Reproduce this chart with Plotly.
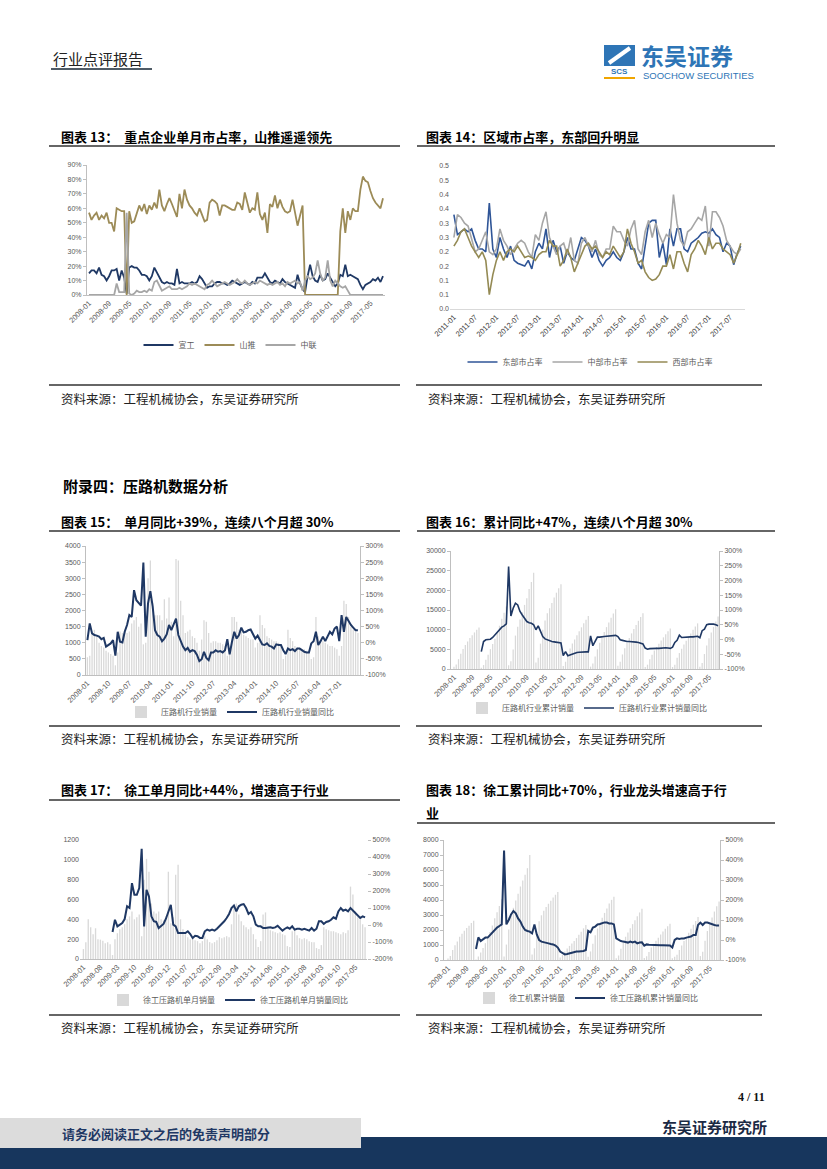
import plotly.graph_objects as go
import pandas as pd

# ---------------- DATA ----------------
months_13 = pd.date_range("2008-01", periods=118, freq="MS").strftime("%Y-%m").tolist()
months_14 = pd.date_range("2011-01", periods=82, freq="MS").strftime("%Y-%m").tolist()
months_15 = pd.date_range("2008-01", periods=117, freq="MS").strftime("%Y-%m").tolist()

ticks_8m = ["2008-01", "2008-09", "2009-05", "2010-01", "2010-09", "2011-05", "2012-01", "2012-09",
            "2013-05", "2014-01", "2014-09", "2015-05", "2016-01", "2016-09", "2017-05"]
ticks_6m = ["2011-01", "2011-07", "2012-01", "2012-07", "2013-01", "2013-07", "2014-01", "2014-07",
            "2015-01", "2015-07", "2016-01", "2016-07", "2017-01", "2017-07"]
ticks_9m = ["2008-01", "2008-10", "2009-07", "2010-04", "2011-01", "2011-10", "2012-07", "2013-04",
            "2014-01", "2014-10", "2015-07", "2016-04", "2017-01"]
ticks_7m = ["2008-01", "2008-08", "2009-03", "2009-10", "2010-05", "2010-12", "2011-07", "2012-02",
            "2012-09", "2013-04", "2013-11", "2014-06", "2015-01", "2015-08", "2016-03", "2016-10", "2017-05"]

# Chart 13: share (%)
xuangong = [15, 17, 17, 15, 19, 14, 13, 10, 13, 17,
            17, 18, 10, 17, 12, 1, 19, 20, 19, 19,
            17, 14, 14, 13, 10, 13, 19, 16, 12, 9,
            8, 9, 8, 8, 7, 18, 8, 9, 8, 8,
            8, 9, 8, 9, 13, 11, 8, 5, 6, 6,
            8, 9, 9, 8, 8, 7, 8, 10, 9, 8,
            7, 8, 9, 8, 7, 9, 8, 12, 12, 12,
            15, 12, 9, 8, 10, 9, 8, 11, 9, 8,
            7, 6, 5, 14, 8, 4, 2, 13, 21, 13,
            10, 9, 14, 10, 11, 15, 12, 10, 6, 8,
            14, 13, 21, 13, 14, 13, 12, 11, 7, 4,
            7, 8, 9, 11, 10, 12, 9, 13]
shantui = [57, 52, 55, 57, 52, 55, 53, 57, 50, 50,
           44, 60, 59, 58, 58, 0, 58, 50, 51, 57,
           62, 58, 63, 56, 62, 59, 64, 60, 73, 62,
           58, 63, 67, 63, 58, 54, 70, 60, 73, 66,
           62, 60, 57, 55, 60, 55, 51, 52, 64, 66,
           65, 63, 55, 62, 62, 61, 60, 59, 59, 64,
           63, 59, 71, 63, 57, 60, 59, 71, 56, 52,
           57, 43, 63, 61, 69, 60, 66, 61, 58, 57,
           58, 66, 58, 48, 55, 62, 0, 0, 0, 0,
           0, 0, 0, 0, 0, 0, 0, 0, 0, 0,
           44, 60, 43, 58, 52, 60, 58, 58, 73, 82,
           79, 78, 72, 67, 64, 62, 60, 67]
zhonglian = [0, 0, 0, 0, 0, 0, 0, 0, 0, 0,
             0, 8, 2, 2, 2, 57, 1, 0, 1, 3,
             2, 2, 3, 2, 4, 3, 9, 10, 6, 3,
             4, 5, 6, 4, 4, 4, 5, 4, 5, 6,
             8, 7, 8, 7, 6, 5, 4, 7, 8, 10,
             8, 6, 7, 8, 9, 8, 7, 8, 9, 11,
             9, 8, 10, 8, 7, 8, 9, 8, 10, 9,
             8, 7, 8, 7, 8, 9, 7, 8, 6, 9,
             8, 9, 10, 8, 9, 3, 10, 13, 11, 12,
             15, 24, 15, 10, 12, 24, 10, 6, 10, 8,
             6, 5, 6, 3, 0, 0, 0, 0, 0, 0,
             0, 0, 0, 0, 0, 0, 0, 0]

# Chart 14: regional share
east = [0.33, 0.26, 0.27, 0.28, 0.27, 0.28, 0.24, 0.21, 0.21, 0.20,
        0.37, 0.21, 0.18, 0.25, 0.21, 0.18, 0.22, 0.17, 0.16, 0.155,
        0.15, 0.17, 0.14, 0.20, 0.23, 0.21, 0.28, 0.18, 0.24, 0.20,
        0.22, 0.16, 0.20, 0.18, 0.17, 0.21, 0.25, 0.24, 0.22, 0.18,
        0.21, 0.17, 0.15, 0.17, 0.18, 0.20, 0.18, 0.17, 0.20, 0.25,
        0.21, 0.21, 0.16, 0.14, 0.22, 0.30, 0.31, 0.31, 0.18, 0.23,
        0.155, 0.28, 0.22, 0.28, 0.28, 0.21, 0.20, 0.23, 0.24, 0.25,
        0.265, 0.27, 0.265, 0.28, 0.26, 0.25, 0.20, 0.23, 0.22, 0.155,
        0.195, 0.22]
central = [0.25, 0.33, 0.32, 0.30, 0.29, 0.24, 0.20, 0.21, 0.24, 0.27,
           0.20, 0.19, 0.21, 0.28, 0.24, 0.22, 0.19, 0.21, 0.23, 0.24,
           0.23, 0.20, 0.18, 0.26, 0.24, 0.30, 0.34, 0.25, 0.22, 0.19,
           0.22, 0.23, 0.19, 0.25, 0.17, 0.16, 0.23, 0.25, 0.22, 0.20,
           0.24, 0.19, 0.18, 0.21, 0.21, 0.29, 0.27, 0.27, 0.24, 0.22,
           0.28, 0.31, 0.21, 0.19, 0.27, 0.31, 0.25, 0.30, 0.26, 0.23,
           0.26, 0.25, 0.40, 0.30, 0.24, 0.22, 0.27, 0.28, 0.30, 0.32,
           0.31, 0.36, 0.22, 0.34, 0.34, 0.32, 0.29, 0.24, 0.22, 0.20,
           0.19, 0.21]
west = [0.22, 0.24, 0.27, 0.28, 0.25, 0.22, 0.20, 0.18, 0.20, 0.17,
        0.05, 0.12, 0.17, 0.20, 0.17, 0.20, 0.21, 0.20, 0.22, 0.20,
        0.18, 0.185, 0.18, 0.17, 0.19, 0.20, 0.20, 0.24, 0.22, 0.22,
        0.15, 0.17, 0.21, 0.18, 0.13, 0.16, 0.19, 0.22, 0.23, 0.21,
        0.22, 0.20, 0.18, 0.20, 0.19, 0.22, 0.20, 0.18, 0.20, 0.28,
        0.23, 0.20, 0.16, 0.17, 0.13, 0.11, 0.10, 0.105, 0.12, 0.15,
        0.15, 0.19, 0.14, 0.20, 0.20, 0.16, 0.13, 0.19, 0.21, 0.24,
        0.22, 0.19, 0.25, 0.21, 0.23, 0.23, 0.21, 0.20, 0.19, 0.16,
        0.19, 0.23]

# Chart 15: industry monthly sales (units) and yoy (%)
roller_monthly = [550, 600, 1350, 1400, 1200, 1000, 900, 850, 750, 700, 650, 600,
                  300, 700, 1350, 1300, 1400, 1300, 1350, 1600, 1700, 1800, 1500, 1600,
                  950, 1000, 3000, 3550, 2250, 1850, 1850, 1850, 1700, 2350, 1750, 2400,
                  1650, 1200, 3600, 3550, 2300, 1850, 1300, 1350, 1400, 1200, 1150, 1000,
                  750, 1100, 1700, 1650, 1300, 1000, 1050, 1050, 1000, 1000, 950, 900,
                  600, 800, 1800, 1800, 1650, 1400, 1350, 1250, 1200, 1150, 1100, 1100,
                  850, 1000, 1850, 1550, 1450, 1200, 1150, 1100, 1050, 1050, 1000, 950,
                  500, 600, 1400, 1150, 1050, 900, 850, 800, 800, 800, 750, 700,
                  500, 550, 1800, 1200, 1100, 1050, 1000, 950, 900, 900, 850, 800,
                  600, 900, 2300, 2200, 1800, 1500, 1400, 1350, 1300]
roller_monthly_yoy = [8, 60, 29, 24, 22, 19, 11, 15, -12, -7, -2, 8,
                      -40, 34, 3, 1, 34, 55, 86, 80, 163, 132, 122, 115,
                      249, 19, 122, 160, 112, 39, 24, 19, 5, 13, 26, 55,
                      39, 55, 75, 24, 3, -12, -23, -16, -28, -23, -26, -38,
                      -57, -51, -28, -47, -54, -30, -30, -23, -28, -26, -30, -23,
                      11, -36, 3, 34, 13, 24, 47, 32, 34, 39, 41, 24,
                      13, 22, 8, -5, -7, -2, -10, -12, -18, -5, -7, -7,
                      -23, -35, -18, -23, -20, -26, -18, -18, -23, -28, -30, -30,
                      -2, 5, 34, -7, 5, 19, 5, 19, 34, 26, 44, 50,
                      5, 86, 34, 80, 65, 55, 47, 39, 39]

# Chart 16: industry cumulative sales and yoy (%)
roller_cum = [550, 1150, 2500, 3900, 5100, 6100, 7000, 7850, 8600, 9300, 9950, 10550,
              300, 1000, 2350, 3650, 5050, 6350, 7700, 9300, 11000, 12800, 14300, 15900,
              950, 1950, 4950, 8500, 10750, 12600, 14450, 16300, 18000, 20350, 22100, 24500,
              1650, 2850, 6450, 10000, 12300, 14150, 15450, 16800, 18200, 19400, 20550, 21550,
              750, 1850, 3550, 5200, 6500, 7500, 8550, 9600, 10600, 11600, 12550, 13450,
              600, 1400, 3200, 5000, 6650, 8050, 9400, 10650, 11850, 13000, 14100, 15200,
              850, 1850, 3700, 5250, 6700, 7900, 9050, 10150, 11200, 12250, 13250, 14200,
              500, 1100, 2500, 3650, 4700, 5600, 6450, 7250, 8050, 8850, 9600, 10300,
              500, 1050, 2850, 4050, 5150, 6200, 7200, 8150, 9050, 9950, 10800, 11600,
              600, 1500, 3800, 6000, 7800, 9300, 10700, 12050, 13350]
roller_cum_yoy = [None] * 12 + [
    -41, -7, -1, -1, 1, 7, 16, 27, 35, 42, 46, 53,
    247, 80, 106, 123, 117, 95, 83, 72, 61, 57, 55, 50,
    33, 46, 27, 10, 2, -1, -5, -7, -8, -10, -11, -12,
    -55, -41, -55, -52, -48, -46, -44, -43, -42, -42, -42, -42,
    12, -21, -7, 8, 8, 10, 10, 11, 12, 14, 15, 14,
    10, -1, -3, -6, -7, -7, -7, -8, -9, -10, -12, -15,
    -29, -33, -31, -30, -30, -30, -30, -29, -29, -28, -29, -30,
    -26, -10, -3, 15, 7, 8, 7, 8, 9, 9, 10, 11,
    6, 30, 35, 50, 52, 53, 52, 50, 47]

# Chart 17: XCMG monthly sales and yoy (%)
xcmg_monthly = [100, 170, 400, 320, 250, 310, 200, 195, 185, 160, 170, 150,
                40, 200, 260, 300, 320, 350, 400, 430, 480, 400, 420, 450,
                230, 800, 1010, 880, 560, 480, 460, 480, 400, 390, 430, 880,
                360, 420, 850, 950, 400, 300, 250, 220, 200, 210, 190, 180,
                160, 180, 230, 200, 170, 160, 170, 190, 220, 210, 220, 230,
                220, 350, 520, 560, 450, 380, 340, 320, 300, 320, 250, 200,
                120, 180, 450, 470, 330, 290, 280, 270, 260, 270, 250, 240,
                130, 120, 280, 310, 240, 210, 200, 210, 200, 180, 170, 170,
                110, 100, 140, 320, 300, 290, 280, 280, 270, 260, 250, 270,
                260, 290, 730, 650, 480, 420, 400, 350, 320]
xcmg_monthly_yoy = [None] * 12 + [
    -41, 31, -8, 2, 12, 35, 110, 100, 246, 178, 178, 217,
    448, -8, 207, 168, 51, 22, 18, -18, -8, 6, 37, 76,
    119, 2, -8, -47, -47, -51, -47, -37, -53, -76, -63, -66,
    -76, -76, -37, -27, -33, -27, -33, -22, -8, 12, 22, 41,
    65, 100, 115, 80, 110, 119, 123, 100, 65, 76, 51, 2,
    -8, -8, -18, -18, -14, -14, -18, -14, -4, -18, -33, -22,
    -14, -22, -8, -27, -22, -22, -27, -22, -27, -33, -18, -33,
    -22, 22, 22, 6, 18, 22, 31, 45, 37, 80, 100, 84,
    90, 80, 100, 84, 70, 51, 41, 51, 45]

# Chart 18: XCMG cumulative sales and yoy (%)
xcmg_cum = [100, 270, 670, 990, 1240, 1550, 1750, 1945, 2130, 2290, 2460, 2610,
            40, 240, 500, 800, 1120, 1470, 1870, 2300, 2780, 3180, 3600, 4050,
            230, 1030, 2040, 2920, 3480, 3960, 4420, 4900, 5300, 5690, 6120, 7000,
            360, 780, 1630, 2580, 2980, 3280, 3530, 3750, 3950, 4160, 4350, 4530,
            160, 340, 570, 770, 940, 1100, 1270, 1460, 1680, 1890, 2110, 2340,
            220, 570, 1090, 1650, 2100, 2480, 2820, 3140, 3440, 3760, 4010, 4210,
            120, 300, 750, 1220, 1550, 1840, 2120, 2390, 2650, 2920, 3170, 3410,
            130, 250, 530, 840, 1080, 1290, 1490, 1700, 1900, 2080, 2250, 2420,
            110, 210, 350, 670, 970, 1260, 1540, 1820, 2090, 2350, 2600, 2870,
            260, 550, 1280, 1930, 2410, 2830, 3230, 3580, 3900]
xcmg_cum_yoy = [None] * 12 + [
    -45, 13, -5, 5, 12, 12, 25, 38, 50, 62, 70, 78,
    447, 78, 100, 128, 145, 133, 108, 92, 67, 50, 45, 42,
    33, 78, 28, 0, -8, -12, -13, -17, -20, -22, -28, -38,
    -58, -67, -72, -70, -67, -63, -60, -58, -58, -58, -55, -50,
    45, 38, 62, 67, 78, 80, 83, 88, 87, 83, 83, 78,
    8, 0, -5, -8, -12, -13, -8, -12, -8, -17, -13, -12,
    -28, -22, -24, -25, -24, -26, -26, -26, -26, -26, -27, -28,
    -38, 0, 8, 5, 8, 8, 12, 15, 17, 25, 25, 75,
    87, 75, 87, 87, 82, 78, 75, 72, 72]

# ---------------- LAYOUT HELPERS ----------------
W, H = 827, 1169
NAVY = "#1F3864"
BAR = "#D9D9D9"
TICKC = "#595959"
AXC = "#BFBFBF"
NUMF = "Liberation Sans"
CJK = "Noto Sans CJK SC"


def xdom(a, b):
    return [a / W, b / W]


def ydom(top, bottom):
    return [1 - bottom / H, 1 - top / H]


def xaxis(dom, rng, tickvals, anchor, color=TICKC, size=7.5):
    return dict(domain=xdom(*dom), range=rng, type="category", tickvals=tickvals, ticktext=tickvals,
                tickangle=-45, tickfont=dict(size=size, color=color, family=NUMF),
                showgrid=False, zeroline=False, showline=True, linecolor=AXC, linewidth=1,
                ticks="", anchor=anchor, automargin=False, fixedrange=True)


def yaxis(dom, rng, tickvals, anchor, suffix="", showline=True, ticktext=None, side="left",
          overlaying=None, ticks="outside"):
    if ticktext is None:
        ticktext = ["{}{}".format(v, suffix) for v in tickvals]
    d = dict(domain=ydom(*dom), range=rng, tickmode="array", tickvals=tickvals, ticktext=ticktext,
             tickfont=dict(size=7, color=TICKC, family=NUMF), showgrid=False, zeroline=False,
             showline=showline, linecolor=AXC, linewidth=1, ticks=ticks, ticklen=3,
             tickcolor=AXC, anchor=anchor, automargin=False, fixedrange=True, side=side)
    if overlaying:
        d["overlaying"] = overlaying
    return d


fig = go.Figure()

# Chart 13
for nm, vals, col in [("宣工", xuangong, NAVY), ("山推", shantui, "#9C8B57"), ("中联", zhonglian, "#A6A6A6")]:
    fig.add_trace(go.Scatter(x=months_13, y=vals, name=nm, mode="lines", line=dict(color=col, width=1.8),
                             xaxis="x", yaxis="y", legend="legend"))
# Chart 14
for nm, vals, col in [("东部市占率", east, "#2F5597"), ("中部市占率", central, "#A6A6A6"),
                      ("西部市占率", west, "#948A54")]:
    fig.add_trace(go.Scatter(x=months_14, y=vals, name=nm, mode="lines", line=dict(color=col, width=1.6),
                             xaxis="x2", yaxis="y2", legend="legend2"))
# Chart 15
fig.add_trace(go.Bar(x=months_15, y=roller_monthly, name="压路机行业销量", marker=dict(color=BAR, line=dict(width=0)),
                     width=0.55, xaxis="x3", yaxis="y3", legend="legend3"))
fig.add_trace(go.Scatter(x=months_15, y=roller_monthly_yoy, name="压路机行业销量同比", mode="lines",
                         line=dict(color=NAVY, width=2), xaxis="x3", yaxis="y7", legend="legend3"))
# Chart 16
fig.add_trace(go.Bar(x=months_15, y=roller_cum, name="压路机行业累计销量", marker=dict(color=BAR, line=dict(width=0)),
                     width=0.55, xaxis="x4", yaxis="y4", legend="legend4"))
fig.add_trace(go.Scatter(x=months_15, y=roller_cum_yoy, name="压路机行业累计销量同比", mode="lines",
                         line=dict(color=NAVY, width=1.6), xaxis="x4", yaxis="y8", legend="legend4"))
# Chart 17
fig.add_trace(go.Bar(x=months_15, y=xcmg_monthly, name="徐工压路机单月销量", marker=dict(color=BAR, line=dict(width=0)),
                     width=0.55, xaxis="x5", yaxis="y5", legend="legend5"))
fig.add_trace(go.Scatter(x=months_15, y=xcmg_monthly_yoy, name="徐工压路机单月销量同比", mode="lines",
                         line=dict(color=NAVY, width=2), xaxis="x5", yaxis="y9", legend="legend5"))
# Chart 18
fig.add_trace(go.Bar(x=months_15, y=xcmg_cum, name="徐工机累计销量", marker=dict(color=BAR, line=dict(width=0)),
                     width=0.55, xaxis="x6", yaxis="y6", legend="legend6"))
fig.add_trace(go.Scatter(x=months_15, y=xcmg_cum_yoy, name="徐工压路机累计销量同比", mode="lines",
                         line=dict(color=NAVY, width=2), xaxis="x6", yaxis="y10", legend="legend6"))

lay = dict(width=W, height=H, margin=dict(l=0, r=0, t=0, b=0), paper_bgcolor="white", plot_bgcolor="white",
           bargap=0.4, font=dict(family=CJK, color="#333"))

lay["xaxis"] = xaxis((87, 385), [-0.8, 117.8], ticks_8m, "y")
lay["yaxis"] = yaxis((165, 295), [0, 90], list(range(0, 91, 10)), "x", suffix="%")
lay["xaxis2"] = xaxis((450, 745), [-1.1, 82.2], ticks_6m, "y2", color="#404040", size=7.5)
lay["xaxis2"]["linecolor"] = "#D9D9D9"
lay["yaxis2"] = yaxis((166, 309), [0, 0.5], [i * 0.05 for i in range(11)], "x2", showline=False,
                      ticktext=["0.0", "0.1", "0.1", "0.2", "0.2", "0.3", "0.3", "0.4", "0.4", "0.5", "0.5"],
                      ticks="")
lay["xaxis3"] = xaxis((86, 360), [-0.6, 116.9], ticks_9m, "y3")
lay["yaxis3"] = yaxis((546, 675), [0, 4000], list(range(0, 4001, 500)), "x3")
lay["yaxis7"] = yaxis((546, 675), [-100, 300], list(range(-100, 301, 50)), "x3", suffix="%", side="right",
                      overlaying="y3")
lay["xaxis4"] = xaxis((451, 719), [-1.3, 116.4], ticks_8m, "y4")
lay["yaxis4"] = yaxis((551, 669), [0, 30000], list(range(0, 30001, 5000)), "x4")
lay["yaxis8"] = yaxis((551, 669), [-100, 300], list(range(-100, 301, 50)), "x4", suffix="%", side="right",
                      overlaying="y4")
lay["xaxis5"] = xaxis((80, 367), [-1.4, 116.8], ticks_7m, "y5")
lay["yaxis5"] = yaxis((840, 959), [0, 1200], list(range(0, 1201, 200)), "x5", showline=False, ticks="")
lay["yaxis9"] = yaxis((840, 959), [-200, 500], list(range(-200, 501, 100)), "x5", suffix="%", side="right",
                      overlaying="y5", showline=False)
lay["xaxis6"] = xaxis((444, 720), [-1.7, 116.4], ticks_8m, "y6")
lay["yaxis6"] = yaxis((840, 960), [0, 8000], list(range(0, 8001, 1000)), "x6")
lay["yaxis10"] = yaxis((840, 960), [-100, 500], list(range(-100, 501, 100)), "x6", suffix="%", side="right",
                       overlaying="y6")


def legend(cx, cy):
    return dict(x=cx / W, y=1 - cy / H, xanchor="center", yanchor="middle", orientation="h",
                font=dict(size=8, color=TICKC, family=CJK), bgcolor="rgba(0,0,0,0)", itemwidth=30,
                tracegroupgap=0, itemclick=False, itemdoubleclick=False)


lay["legend"] = legend(230, 345)
lay["legend2"] = legend(590, 362)
lay["legend3"] = legend(230, 712)
lay["legend4"] = legend(587, 708)
lay["legend5"] = legend(228, 1000)
lay["legend6"] = legend(586, 998)
lay["showlegend"] = True

fig.update_layout(**lay)

# ---------------- PAGE DECORATION ----------------
shapes = []
ann = []


def hline(x0, x1, y, color="#333333", width=1.5):
    shapes.append(dict(type="line", xref="paper", yref="paper", x0=x0 / W, x1=x1 / W, y0=1 - y / H, y1=1 - y / H,
                       line=dict(color=color, width=width)))


def rect(x0, y0, x1, y1, color):
    shapes.append(dict(type="rect", xref="paper", yref="paper", x0=x0 / W, x1=x1 / W, y0=1 - y1 / H, y1=1 - y0 / H,
                       fillcolor=color, line=dict(width=0), layer="below"))


def text(x, y, s, size=13, color="#000", anchor="left", family=CJK):
    ann.append(dict(xref="paper", yref="paper", x=x / W, y=1 - y / H, text=s, showarrow=False, xanchor=anchor,
                    yanchor="middle", font=dict(size=size, color=color, family=family)))


# header
text(51, 59, "行业点评报告", size=15, color="#222")
hline(51, 152, 69, color="#4F5B66", width=2)
# logo
rect(604, 45, 635, 66, "#2E75B6")
shapes.append(dict(type="path", xref="paper", yref="paper",
                   path="M {} {} L {} {}".format(609 / W, 1 - 63 / H, 630 / W, 1 - 48 / H),
                   line=dict(color="white", width=4)))
text(619.5, 72, "<b>SCS</b>", size=8, color="#2E75B6", anchor="center", family=NUMF)
hline(604, 635, 78, color="#F0A500", width=2)
text(639, 55, "<b>东吴证券</b>", size=23, color="#2E75B6")
text(641, 76, "SOOCHOW SECURITIES", size=9.5, color="#2E75B6", family=NUMF)

# row 1
text(59, 136, "<b>图表 13：  重点企业单月市占率，山推遥遥领先</b>", size=13)
text(424, 136, "<b>图表 14：区域市占率，东部回升明显</b>", size=13)
hline(49, 400, 146)
hline(417, 775, 146)
hline(49, 400, 385)
hline(416, 762, 385)
text(59, 398, "资料来源：工程机械协会，东吴证券研究所", size=12.5, color="#222")
text(426, 398, "资料来源：工程机械协会，东吴证券研究所", size=12.5, color="#222")

# section header
text(61, 485, "<b>附录四：压路机数据分析</b>", size=15)

# row 2
text(59, 521, "<b>图表 15：  单月同比+39%，连续八个月超 30%</b>", size=13)
text(424, 521, "<b>图表 16：累计同比+47%，连续八个月超 30%</b>", size=13)
hline(49, 400, 531)
hline(417, 775, 531)
hline(49, 400, 726)
hline(416, 762, 726)
text(59, 738, "资料来源：工程机械协会，东吴证券研究所", size=12.5, color="#222")
text(426, 738, "资料来源：工程机械协会，东吴证券研究所", size=12.5, color="#222")

# row 3
text(59, 789, "<b>图表 17：  徐工单月同比+44%，增速高于行业</b>", size=13)
text(424, 789, "<b>图表 18：徐工累计同比+70%，行业龙头增速高于行</b>", size=13)
text(424, 812, "<b>业</b>", size=13)
hline(49, 400, 800)
hline(417, 775, 823)
hline(49, 400, 1015)
hline(416, 762, 1015)
text(59, 1027, "资料来源：工程机械协会，东吴证券研究所", size=12.5, color="#222")
text(426, 1027, "资料来源：工程机械协会，东吴证券研究所", size=12.5, color="#222")

# footer
text(767, 1097, "<b>4 / 11</b>", size=12, color="#111", anchor="right", family="Liberation Serif")
text(769, 1126, "<b>东吴证券研究所</b>", size=15, color="#1B2A44", anchor="right")
rect(0, 1137, 827, 1169, "#17365D")
rect(0, 1118, 361, 1148, "#DCDCDC")
text(60, 1133, "<b>请务必阅读正文之后的免责声明部分</b>", size=13, color="#1F3864")

fig.update_layout(shapes=shapes, annotations=ann)

fig.write_html("out.html", config={"displayModeBar": False, "staticPlot": True},
               post_script="document.body.style.margin='0';document.body.style.overflow='hidden';")
